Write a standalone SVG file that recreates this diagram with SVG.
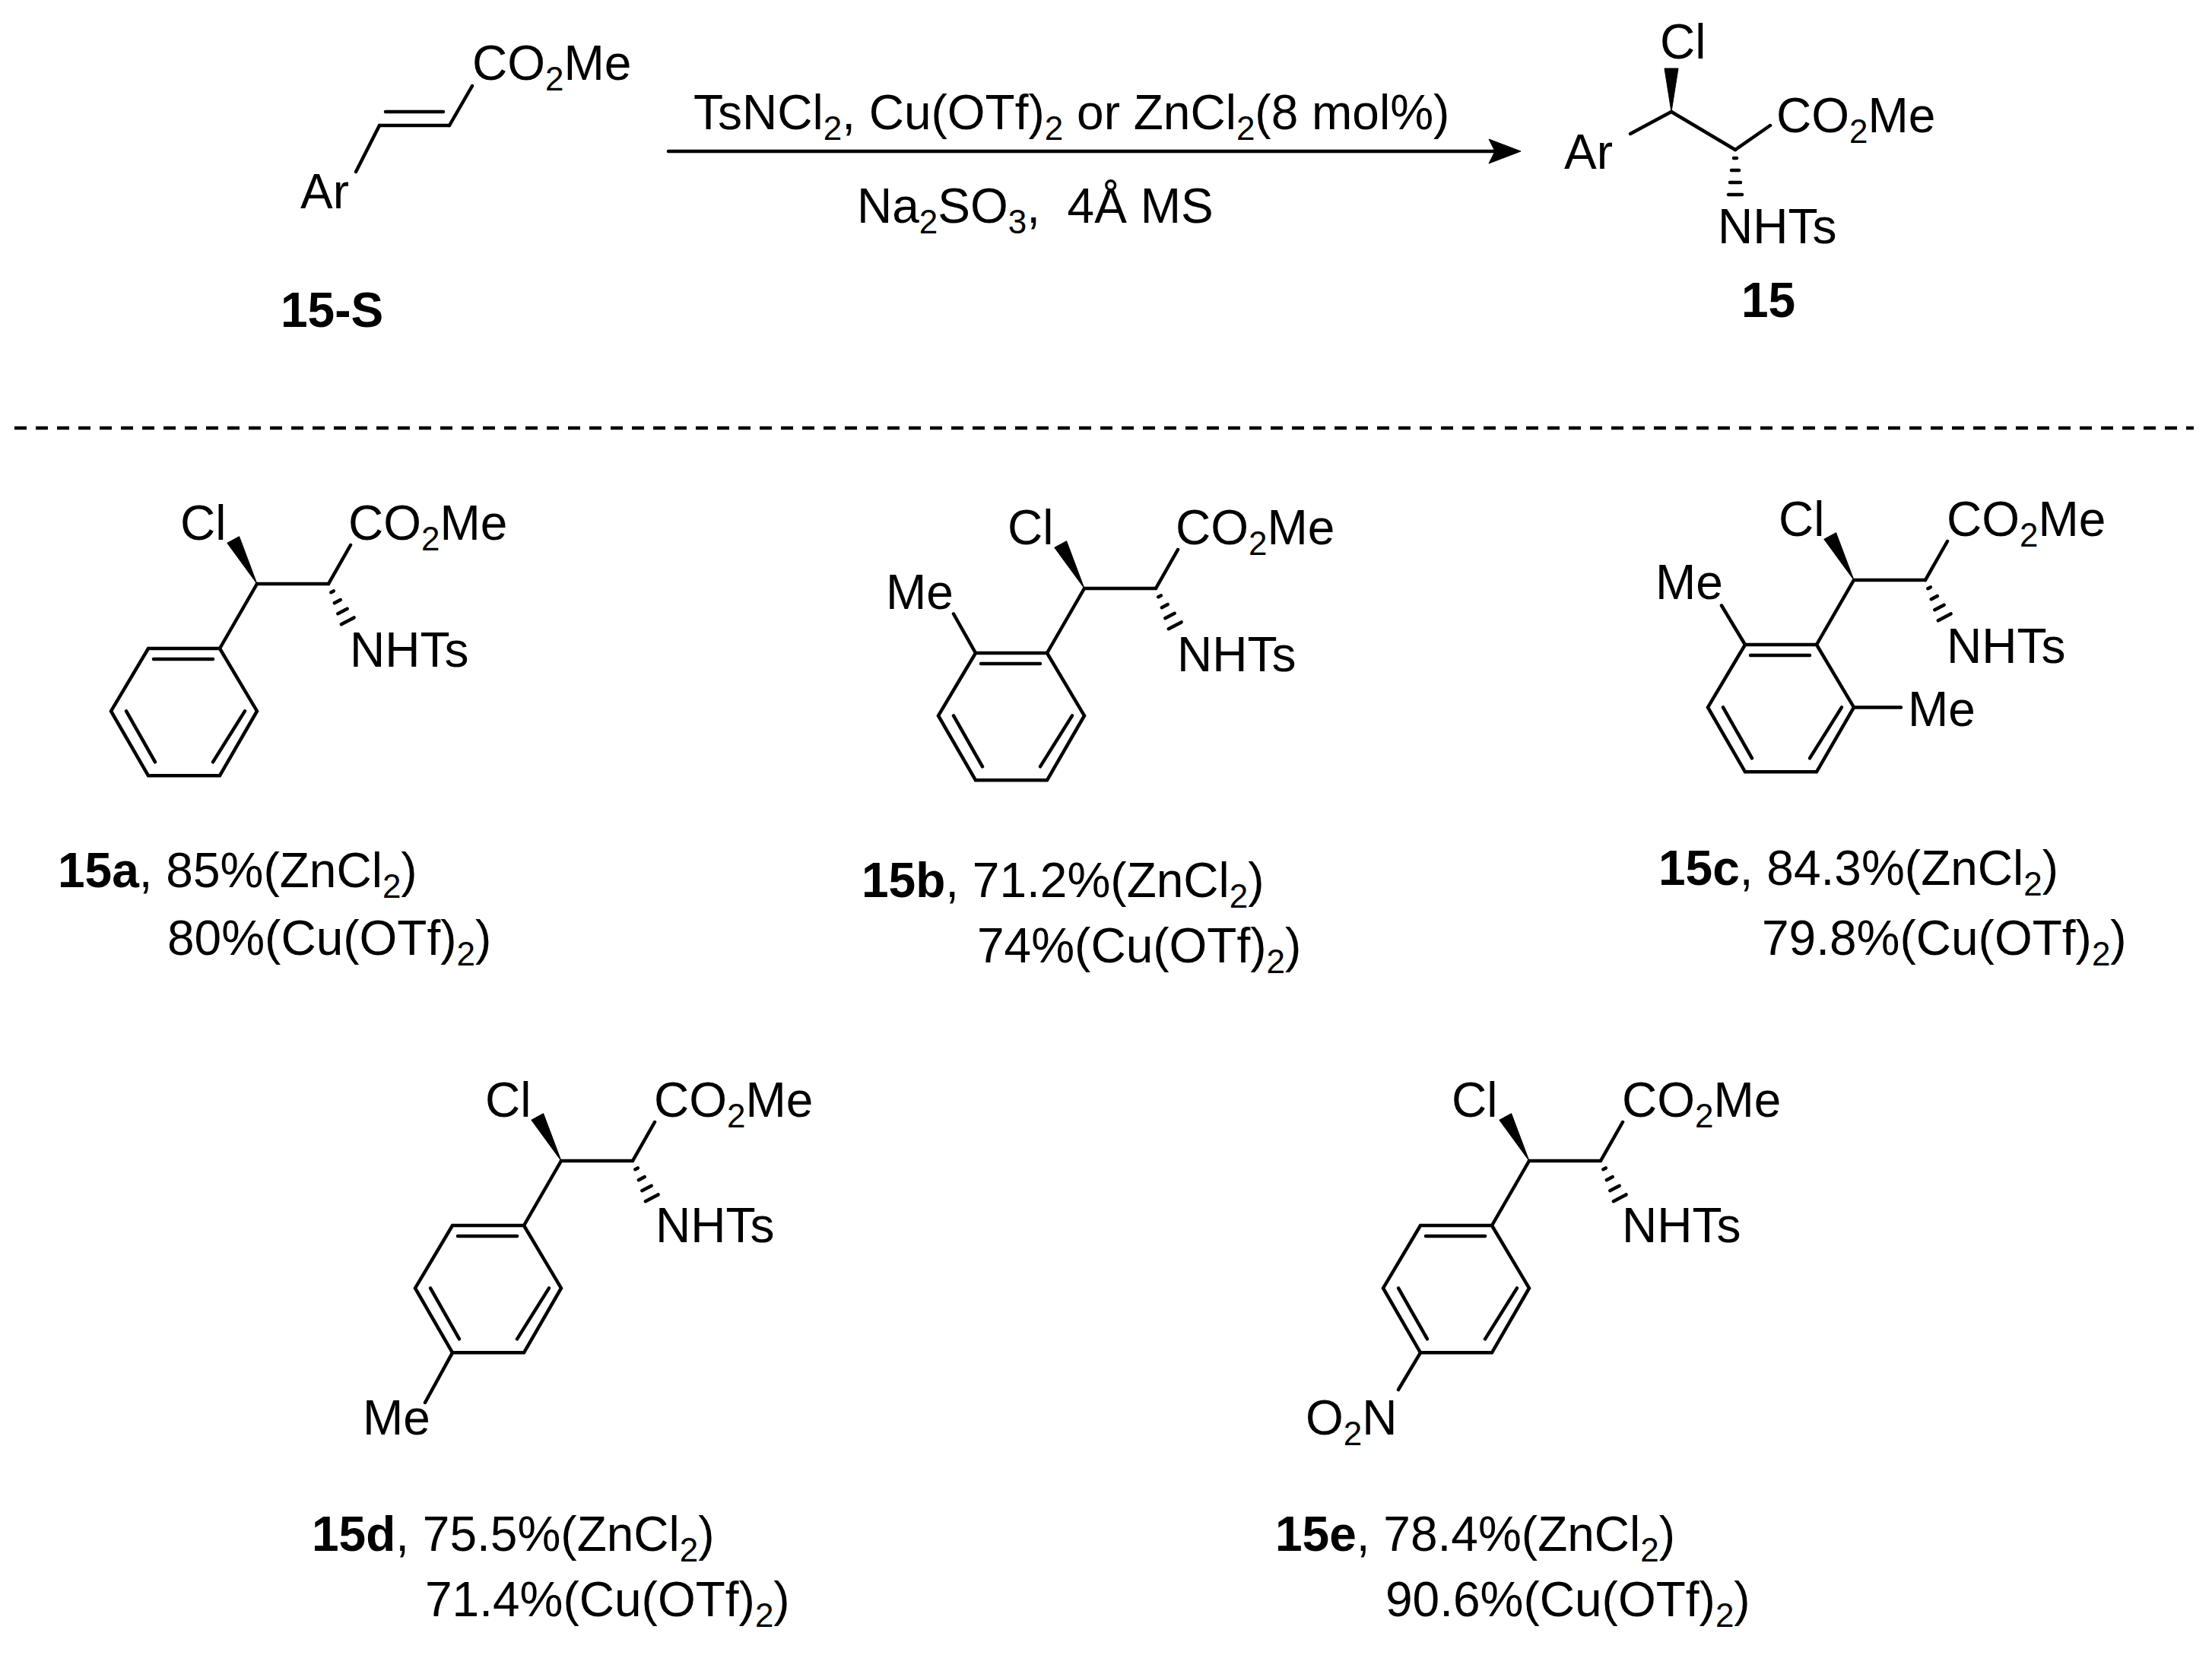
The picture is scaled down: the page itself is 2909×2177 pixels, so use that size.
<svg xmlns="http://www.w3.org/2000/svg" width="2909" height="2177" viewBox="0 0 2909 2177">
<style>
text{font-family:"Liberation Sans",Arial,sans-serif;font-size:64px;fill:#000}
.b{font-weight:bold}
.s{font-size:44px}
line,polyline,polygon.r{stroke:#000;stroke-width:4.5;fill:none;stroke-linecap:round}
.w{fill:#000;stroke:#000;stroke-width:1}
.h{stroke-width:3.5}
</style>
<rect width="2909" height="2177" fill="#fff"/>

<g id="sm15S">
<line x1="468" y1="226" x2="499" y2="165"/>
<line x1="499" y1="165" x2="591" y2="165"/>
<line x1="507" y1="147" x2="583" y2="147"/>
<line x1="591" y1="165" x2="621" y2="113"/>
<text x="621" y="105">CO<tspan class="s" dy="14">2</tspan><tspan dy="-14">Me</tspan></text>
<text x="395" y="274">Ar</text>
<text class="b" x="369" y="430">15-S</text>
</g>

<g id="connectors">
<line x1="879" y1="199" x2="1965" y2="199" style="stroke-width:4.5"/>
<polygon class="w" points="2000,199 1958,183 1966,199 1958,215"/>
<line x1="19" y1="563" x2="2885" y2="563" style="stroke-dasharray:16 12;stroke-linecap:butt"/>
</g>

<g id="conditions">
<text x="912" y="170">TsNCl<tspan class="s" dy="14">2</tspan><tspan dy="-14">, Cu(OTf)</tspan><tspan class="s" dy="14">2</tspan><tspan dy="-14"> or ZnCl</tspan><tspan class="s" dy="14">2</tspan><tspan dy="-14">(8 mol%)</tspan></text>
<text x="1127" y="293" xml:space="preserve">Na<tspan class="s" dy="14">2</tspan><tspan dy="-14">SO</tspan><tspan class="s" dy="14">3</tspan><tspan dy="-14">,  4Å MS</tspan></text>
</g>

<g id="p15">
<polygon class="w" points="2198,147 2189,90 2207,90"/>
<text x="2183" y="77">Cl</text>
<line x1="2198" y1="147" x2="2144" y2="176"/>
<text x="2057" y="222">Ar</text>
<line x1="2198" y1="147" x2="2282" y2="197"/>
<line x1="2282" y1="197" x2="2328" y2="165"/>
<text x="2336" y="174">CO<tspan class="s" dy="14">2</tspan><tspan dy="-14">Me</tspan></text>
<g class="h">
<line x1="2280" y1="208" x2="2284" y2="208"/>
<line x1="2277" y1="224" x2="2287" y2="224"/>
<line x1="2275" y1="240" x2="2289" y2="240"/>
<line x1="2273" y1="256" x2="2291" y2="256"/>
</g>
<text x="2259" y="320">NHTs</text>
<text class="b" x="2290" y="417">15</text>
</g>

<g id="m15a" transform="translate(338,768)">
<polygon class="w" points="0,0 -23.4,-62.3 -39.2,-53.7"/>
<text x="-101" y="-58">Cl</text>
<line x1="0" y1="0" x2="94" y2="0"/>
<line x1="94" y1="0" x2="123" y2="-51"/>
<text x="120" y="-58">CO<tspan class="s" dy="14">2</tspan><tspan dy="-14">Me</tspan></text>
<g class="h"><line x1="97.3" y1="11.2" x2="100.8" y2="9.4"/><line x1="101.8" y1="25.2" x2="109.8" y2="21"/><line x1="106.3" y1="39.2" x2="118.7" y2="32.8"/><line x1="110.8" y1="53.2" x2="127.6" y2="44.4"/></g>
<text x="122" y="109">NHTs</text>
<line x1="0" y1="0" x2="-49" y2="85"/>
<polygon class="r" points="-49,85 -143,85 -192,167.4 -143,252.3 -49,252.3 0,167.4"/>
<line x1="-136" y1="99" x2="-58" y2="99"/>
<line x1="-172" y1="167.4" x2="-134" y2="234.4"/>
<line x1="-16" y1="167.4" x2="-58" y2="234.4"/>
</g>
<g id="l15a"><text x="76" y="1167"><tspan class="b">15a</tspan>, 85%(ZnCl<tspan class="s" dy="14">2</tspan><tspan dy="-14">)</tspan></text>
<text x="220" y="1256">80%(Cu(OTf)<tspan class="s" dy="14">2</tspan><tspan dy="-14">)</tspan></text></g>

<g id="m15b" transform="translate(1426,774)">
<polygon class="w" points="0,0 -23.4,-62.3 -39.2,-53.7"/>
<text x="-101" y="-58">Cl</text>
<line x1="0" y1="0" x2="94" y2="0"/>
<line x1="94" y1="0" x2="123" y2="-51"/>
<text x="120" y="-58">CO<tspan class="s" dy="14">2</tspan><tspan dy="-14">Me</tspan></text>
<g class="h"><line x1="97.3" y1="11.2" x2="100.8" y2="9.4"/><line x1="101.8" y1="25.2" x2="109.8" y2="21"/><line x1="106.3" y1="39.2" x2="118.7" y2="32.8"/><line x1="110.8" y1="53.2" x2="127.6" y2="44.4"/></g>
<text x="122" y="109">NHTs</text>
<line x1="0" y1="0" x2="-49" y2="85"/>
<polygon class="r" points="-49,85 -143,85 -192,167.4 -143,252.3 -49,252.3 0,167.4"/>
<line x1="-136" y1="99" x2="-58" y2="99"/>
<line x1="-172" y1="167.4" x2="-134" y2="234.4"/>
<line x1="-16" y1="167.4" x2="-58" y2="234.4"/>
<line x1="-172" y1="33.5" x2="-143" y2="85"/>
<text x="-261" y="27">Me</text>
</g>
<g id="l15b"><text x="1133" y="1180"><tspan class="b">15b</tspan>, 71.2%(ZnCl<tspan class="s" dy="14">2</tspan><tspan dy="-14">)</tspan></text>
<text x="1285" y="1266">74%(Cu(OTf)<tspan class="s" dy="14">2</tspan><tspan dy="-14">)</tspan></text></g>

<g id="m15c" transform="translate(2438,763)">
<polygon class="w" points="0,0 -23.4,-62.3 -39.2,-53.7"/>
<text x="-99" y="-58">Cl</text>
<line x1="0" y1="0" x2="94" y2="0"/>
<line x1="94" y1="0" x2="123" y2="-51"/>
<text x="122" y="-58">CO<tspan class="s" dy="14">2</tspan><tspan dy="-14">Me</tspan></text>
<g class="h"><line x1="97.3" y1="11.2" x2="100.8" y2="9.4"/><line x1="101.8" y1="25.2" x2="109.8" y2="21"/><line x1="106.3" y1="39.2" x2="118.7" y2="32.8"/><line x1="110.8" y1="53.2" x2="127.6" y2="44.4"/></g>
<text x="122" y="109">NHTs</text>
<line x1="0" y1="0" x2="-49" y2="85"/>
<polygon class="r" points="-49,85 -143,85 -192,167.4 -143,252.3 -49,252.3 0,167.4"/>
<line x1="-136" y1="99" x2="-58" y2="99"/>
<line x1="-172" y1="167.4" x2="-134" y2="234.4"/>
<line x1="-16" y1="167.4" x2="-58" y2="234.4"/>
<line x1="-174" y1="33.5" x2="-143" y2="85"/>
<text x="-261" y="25">Me</text>
<line x1="0" y1="167.4" x2="62" y2="167.4"/>
<text x="71" y="192">Me</text>
</g>
<g id="l15c"><text x="2181" y="1164"><tspan class="b">15c</tspan>, 84.3%(ZnCl<tspan class="s" dy="14">2</tspan><tspan dy="-14">)</tspan></text>
<text x="2317" y="1256">79.8%(Cu(OTf)<tspan class="s" dy="14">2</tspan><tspan dy="-14">)</tspan></text></g>

<g id="m15d" transform="translate(738,1527)">
<polygon class="w" points="0,0 -23.4,-62.3 -39.2,-53.7"/>
<text x="-100" y="-58">Cl</text>
<line x1="0" y1="0" x2="94" y2="0"/>
<line x1="94" y1="0" x2="123" y2="-51"/>
<text x="122" y="-58">CO<tspan class="s" dy="14">2</tspan><tspan dy="-14">Me</tspan></text>
<g class="h"><line x1="97.3" y1="11.2" x2="100.8" y2="9.4"/><line x1="101.8" y1="25.2" x2="109.8" y2="21"/><line x1="106.3" y1="39.2" x2="118.7" y2="32.8"/><line x1="110.8" y1="53.2" x2="127.6" y2="44.4"/></g>
<text x="124" y="107">NHTs</text>
<line x1="0" y1="0" x2="-49" y2="85"/>
<polygon class="r" points="-49,85 -143,85 -192,167.4 -143,252.3 -49,252.3 0,167.4"/>
<line x1="-136" y1="99" x2="-58" y2="99"/>
<line x1="-172" y1="167.4" x2="-134" y2="234.4"/>
<line x1="-16" y1="167.4" x2="-58" y2="234.4"/>
<line x1="-143" y1="252.3" x2="-179" y2="318"/>
<text x="-261" y="360">Me</text>
</g>
<g id="l15d"><text x="410" y="2040"><tspan class="b">15d</tspan>, 75.5%(ZnCl<tspan class="s" dy="14">2</tspan><tspan dy="-14">)</tspan></text>
<text x="559" y="2126">71.4%(Cu(OTf)<tspan class="s" dy="14">2</tspan><tspan dy="-14">)</tspan></text></g>

<g id="m15e" transform="translate(2011,1527)">
<polygon class="w" points="0,0 -23.4,-62.3 -39.2,-53.7"/>
<text x="-102" y="-58">Cl</text>
<line x1="0" y1="0" x2="94" y2="0"/>
<line x1="94" y1="0" x2="123" y2="-51"/>
<text x="122" y="-58">CO<tspan class="s" dy="14">2</tspan><tspan dy="-14">Me</tspan></text>
<g class="h"><line x1="97.3" y1="11.2" x2="100.8" y2="9.4"/><line x1="101.8" y1="25.2" x2="109.8" y2="21"/><line x1="106.3" y1="39.2" x2="118.7" y2="32.8"/><line x1="110.8" y1="53.2" x2="127.6" y2="44.4"/></g>
<text x="122" y="107">NHTs</text>
<line x1="0" y1="0" x2="-49" y2="85"/>
<polygon class="r" points="-49,85 -143,85 -192,167.4 -143,252.3 -49,252.3 0,167.4"/>
<line x1="-136" y1="99" x2="-58" y2="99"/>
<line x1="-172" y1="167.4" x2="-134" y2="234.4"/>
<line x1="-16" y1="167.4" x2="-58" y2="234.4"/>
<line x1="-143" y1="252.3" x2="-172" y2="301"/>
<text x="-294" y="360">O<tspan class="s" dy="14">2</tspan><tspan dy="-14">N</tspan></text>
</g>
<g id="l15e"><text x="1677" y="2040"><tspan class="b">15e</tspan>, 78.4%(ZnCl<tspan class="s" dy="14">2</tspan><tspan dy="-14">)</tspan></text>
<text x="1822" y="2126">90.6%(Cu(OTf)<tspan class="s" dy="14">2</tspan><tspan dy="-14">)</tspan></text></g>
</svg>
